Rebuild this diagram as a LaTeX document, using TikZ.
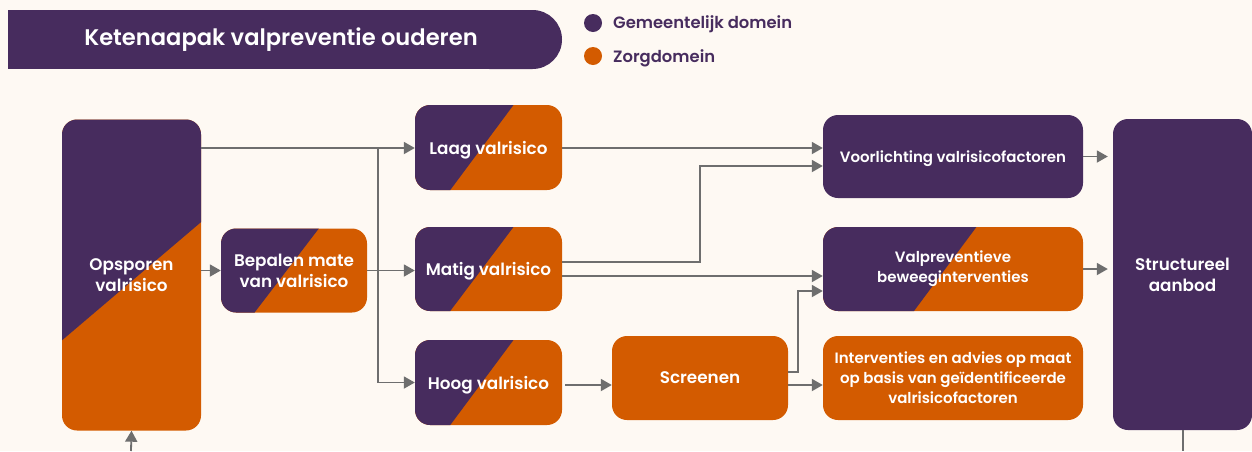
\documentclass[tikz,border=0pt]{standalone}
\usepackage{fontspec}
\setmainfont{Poppins}[UprightFont=* SemiBold, BoldFont=* Bold]
\usetikzlibrary{calc,arrows.meta}
\definecolor{bgcream}{HTML}{FEF9F3}
\definecolor{gpurple}{HTML}{472C5E}
\definecolor{zorange}{HTML}{D35B00}
\definecolor{linegray}{HTML}{6E6E6E}
\tikzset{
  box/.style={rounded corners=15pt, inner sep=0pt, align=center, text=white,
    font=\fontsize{15}{20}\selectfont},
  bigtext/.style={font=\fontsize{16.8}{21}\selectfont},
  % a tall strut on single lines so the words sit at the optical middle
  oneline/.style={execute at begin node={\rule{0pt}{1.08em}}},
  pbox/.style={box, fill=gpurple},
  obox/.style={box, fill=zorange},
  splitbox/.style 2 args={box, fill=zorange, path picture={
    \fill[gpurple, sharp corners] (path picture bounding box.north west)
      -- ($(path picture bounding box.north west)!#1!(path picture bounding box.north east)$)
      -- ($(path picture bounding box.south west)!#2!(path picture bounding box.south east)$)
      -- (path picture bounding box.south west) -- cycle;}},
  conn/.style={draw=linegray, line width=1.8pt},
  arr/.style={conn, -{Triangle[length=11pt,width=12pt]}},
  legtext/.style={text=gpurple, anchor=west, inner sep=0pt, font=\fontsize{16.4}{19}\selectfont},
}
\begin{document}
\begin{tikzpicture}[x=1pt,y=-1pt]
\fill[bgcream] (0,0) rectangle (1252,451);
\useasboundingbox (0,0) rectangle (1252,451);

% title banner: square on the left, round on the right
\fill[gpurple] (8,10) rectangle (520,69);
\fill[gpurple, rounded corners=29.5pt] (460,10) rectangle (562,69);
\node[text=white, font=\fontsize{22.6}{26}\selectfont] (title) at (281,40) {Ketenaapak valpreventie ouderen};

% legend
\fill[gpurple] (593,23) circle (9);
\node[legtext] (leg1) at (613,24) {Gemeentelijk domein};
\fill[zorange] (593,56) circle (9);
\node[legtext] (leg2) at (613,58) {Zorgdomein};

% boxes
\node[box, bigtext, fill=zorange, minimum width=139pt, minimum height=311pt,
  path picture={\fill[gpurple, sharp corners] (path picture bounding box.north west)
      -- (path picture bounding box.north east)
      -- ($(path picture bounding box.north east)!0.33!(path picture bounding box.south east)$)
      -- ($(path picture bounding box.north west)!0.71!(path picture bounding box.south west)$) -- cycle;}]
  (opsp) at (131.5,275) {Opsporen\\valrisico};
\node[splitbox={0.67}{0.23}, bigtext, minimum width=146pt, minimum height=84pt] (bep) at (294,270.5) {Bepalen mate\\van valrisico};
\node[splitbox={0.67}{0.24}, bigtext, oneline, minimum width=147pt, minimum height=85pt] (laag) at (488.5,147.5) {Laag valrisico};
\node[splitbox={0.67}{0.24}, bigtext, oneline, minimum width=147pt, minimum height=84pt] (matig) at (488.5,269) {Matig valrisico};
\node[splitbox={0.67}{0.24}, bigtext, oneline, minimum width=147pt, minimum height=85pt] (hoog) at (488.5,382.5) {Hoog valrisico};
\node[obox, bigtext, minimum width=176pt, minimum height=84pt] (scr) at (700,378) {Screenen};
\node[pbox, oneline, minimum width=260pt, minimum height=83pt] (voor) at (953,156.5) {Voorlichting valrisicofactoren};
\node[splitbox={0.59}{0.35}, minimum width=260pt, minimum height=84pt] (valp) at (953,269) {Valpreventieve\\beweeginterventies};
\node[obox, minimum width=260pt, minimum height=84pt] (intv) at (953,378)
  {Interventies en advies op maat\\op basis van geïdentificeerde\\valrisicofactoren};
\node[pbox, bigtext, minimum width=139pt, minimum height=311pt] (struct) at (1182.5,274.5) {Structureel\\aanbod};

% incoming and outgoing ends at the bottom edge
\coordinate (inlet) at (131,451);
\coordinate (outlet) at (1183,451);
\draw[arr] (inlet) -- (opsp.south);
\draw[conn] (struct.south -| outlet) -- (outlet);

% from detection to risk level
\coordinate (j) at (378,148);
\draw[arr] (opsp.east |- j) -- (laag.west |- j);
\draw[arr] (opsp.east |- bep.west) -- (bep.west);
\draw[arr] (bep.east) -- (matig.west |- bep.east);
\draw[arr] (j) -- (j |- hoog.west) -- (hoog.west);

% from risk level to interventions
\draw[arr] (laag.east |- j) -- (voor.west |- j);
\coordinate (m1) at (700,262);
\coordinate (m2) at (700,166);
\draw[arr] (matig.east |- m1) -- (m1) -- (m2) -- (voor.west |- m2);
\coordinate (m3) at (562,276);
\draw[arr] (m3) -- (valp.west |- m3);
\coordinate (h1) at (565,385);
\draw[arr] (h1) -- (scr.west |- h1);
\coordinate (s1) at (798,372);
\coordinate (s2) at (798,291);
\draw[arr] (scr.east |- s1) -- (s1) -- (s2) -- (valp.west |- s2);
\draw[arr] (scr.east |- h1) -- (intv.west |- h1);

% into the structural offer
\draw[arr, shorten >=5pt] (voor.east) -- (struct.west |- voor.east);
\draw[arr, shorten >=5pt] (valp.east) -- (struct.west |- valp.east);
\end{tikzpicture}
\end{document}
